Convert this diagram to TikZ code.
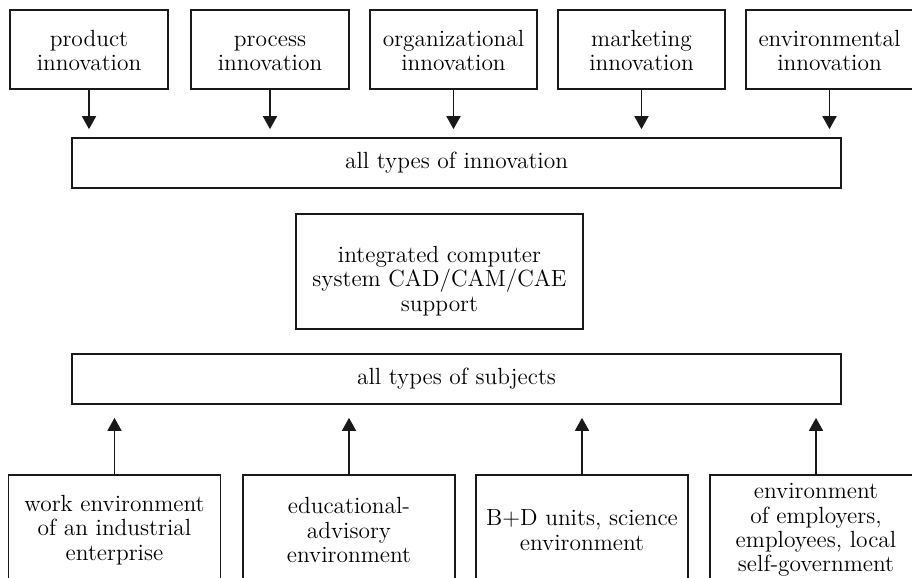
\documentclass[tikz,border=0pt]{standalone}
\usetikzlibrary{arrows.meta}
\begin{document}
\begin{tikzpicture}[x=0.5pt,y=-0.5pt,
  box/.style={draw=black!90, line width=0.85pt, align=center, inner sep=0pt,
    font=\fontsize{11.7}{12.2}\selectfont},
  topbox/.style={box, minimum height=39.5pt, text height=24.6pt, text depth=3.2pt},
  botbox/.style={box, minimum width=106pt, minimum height=55pt},
  wide/.style={box, minimum width=384.5pt, minimum height=25pt},
  link/.style={draw=black!90, line width=0.85pt, -{Triangle[width=7pt,length=6.5pt]}}]
\useasboundingbox (0,0) rectangle (912,578);

% sources of innovation
\node[topbox, minimum width=79pt]   (p1) at (89,49.5)    {product\\innovation};
\node[topbox, minimum width=79pt]   (p2) at (270,49.5)   {process\\innovation};
\node[topbox, minimum width=83.5pt] (p3) at (453.5,49.5) {organizational\\innovation};
\node[topbox, minimum width=83.5pt] (p4) at (641.5,49.5) {marketing\\innovation};
\node[topbox, minimum width=83.5pt] (p5) at (829.5,49.5) {environmental\\innovation};

\node[wide] (inn) at (456.5,163) {all types of innovation};

% central support system
\node[box, minimum width=143.5pt, minimum height=57.5pt] (cad) at (439.5,271.5) {};
\node[box, draw=none] (cadtext) at (439.5,281) {integrated computer\\system CAD/CAM/CAE\\support};

\node[wide] (subj) at (456.5,379) {all types of subjects};

% environments of the subjects
\node[botbox] (e1) at (114.5,530) {work environment\\of an industrial\\enterprise};
\node[botbox] (e2) at (349,530)   {educational-\\advisory\\environment};
\node[botbox] (e3) at (582,530)   {B+D units, science\\environment};
\node[botbox] (e4) at (816,530)   {environment\\of employers,\\employees, local\\self-government};

% arrows into the innovation bar
\foreach \n in {p1,p2,p3,p4,p5}
  \draw[link, shorten >=4pt] (\n.south) -- (\n.south |- inn.north);

% arrows into the subjects bar
\foreach \n in {e1,e2,e3,e4}
  \draw[link, shorten >=6.5pt] (\n.north) -- (\n.north |- subj.south);
\end{tikzpicture}
\end{document}
